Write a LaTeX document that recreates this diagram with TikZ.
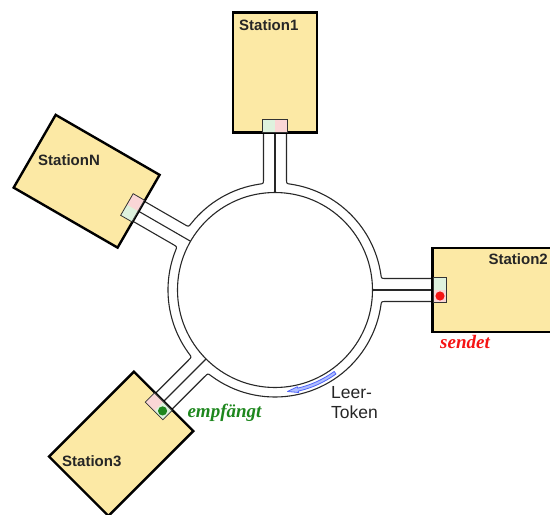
\documentclass[tikz,border=0pt]{standalone}
\usepackage{fontspec}
\newfontfamily\labfont{Liberation Sans}
\newfontfamily\serfont{Liberation Serif}
\definecolor{boxfill}{RGB}{252,233,165}
\definecolor{wallc}{RGB}{40,40,40}
\definecolor{halfgreen}{RGB}{222,242,222}
\definecolor{halfpink}{RGB}{250,214,214}
\definecolor{sendred}{RGB}{245,20,20}
\definecolor{recvgreen}{RGB}{30,135,30}
\definecolor{tokblue}{RGB}{80,100,250}
\definecolor{tokfill}{RGB}{175,190,255}
\tikzset{
  wall/.style={draw=wallc, line width=1.1pt},
  stbox/.style={draw=black, line width=2.4pt, fill=boxfill, inner sep=0pt,
    minimum width=120pt, minimum height=84pt, transform shape},
  stlabel/.style={font=\labfont\bfseries\fontsize{15}{18}\selectfont, text=black!85, inner sep=0pt},
  conn/.style={draw=black!80, line width=0.8pt},
  status/.style={font=\serfont\bfseries\itshape\fontsize{19}{22}\selectfont, inner sep=0pt},
  tok/.style={draw=tokblue, fill=tokfill, line width=0.8pt, line join=round}
}
\begin{document}
\begin{tikzpicture}[x=1pt,y=1pt]
\useasboundingbox (-275,-225) rectangle (275,290);
% ring
\draw[wall] (0,0) circle (97.5);
\foreach \a/\b in {0/90,90/150,150/225,225/360}{
  \draw[wall] ({\a+4.18}:157.92) -- ({\a+5.93}:111.4)
    .. controls ({\a+6.17}:107) .. ({\a+8.47}:107)
    arc[start angle={\a+8.47}, end angle={\b-8.47}, radius=107]
    .. controls ({\b-6.17}:107) .. ({\b-5.93}:111.4) -- ({\b-4.18}:157.92);
}
\foreach \a in {0,90,150,225}{
  \draw[wall] (\a:97.5) -- (\a:158);
}
% stations
\foreach \a/\n in {90/st1, 0/st2, 150/stN, 225/st3}{
  \begin{scope}[rotate=\a]
    \node[stbox] (\n) at (217.5,0) {};
    \fill[halfgreen] (158,0) -- (171,0) -- (171,12.5) -- (158,12.5) -- cycle;
    \fill[halfpink] (158,-12.5) -- (171,-12.5) -- (171,0) -- (158,0) -- cycle;
    \draw[conn] (158,-12.5) -- (171,-12.5) -- (171,12.5) -- (158,12.5) -- cycle;
  \end{scope}
}
\begin{scope}[rotate=0]
  \fill[sendred] (165,-6) circle (4.6);
\end{scope}
\begin{scope}[rotate=225]
  \fill[recvgreen] (165,6) circle (4.6);
\end{scope}
% labels
\node[stlabel, anchor=west] (l1) at (-36,265) {Station1};
\node[stlabel, anchor=east] (l2) at (273,31) {Station2};
\node[stlabel, anchor=west] (lN) at (-237,130) {StationN};
\node[stlabel, anchor=west] (l3) at (-213,-171) {Station3};
\node[status, text=sendred] (send) at (190,-52) {sendet};
\node[status, text=recvgreen] (recv) at (-50.5,-123) {empfängt};
% token
\draw[tok] (306:103.8) arc[start angle=306, end angle=283, radius=103.8]
  -- (283:105.2) -- (277:102.25) -- (283:99.3) -- (283:100.7)
  arc[start angle=283, end angle=306, radius=100.7] -- cycle;
\node[font=\labfont\fontsize{17.5}{20}\selectfont, text=black!85, align=left, anchor=west, inner sep=0pt] (leer) at (56,-113) {Leer-\\Token};
\end{tikzpicture}
\end{document}
